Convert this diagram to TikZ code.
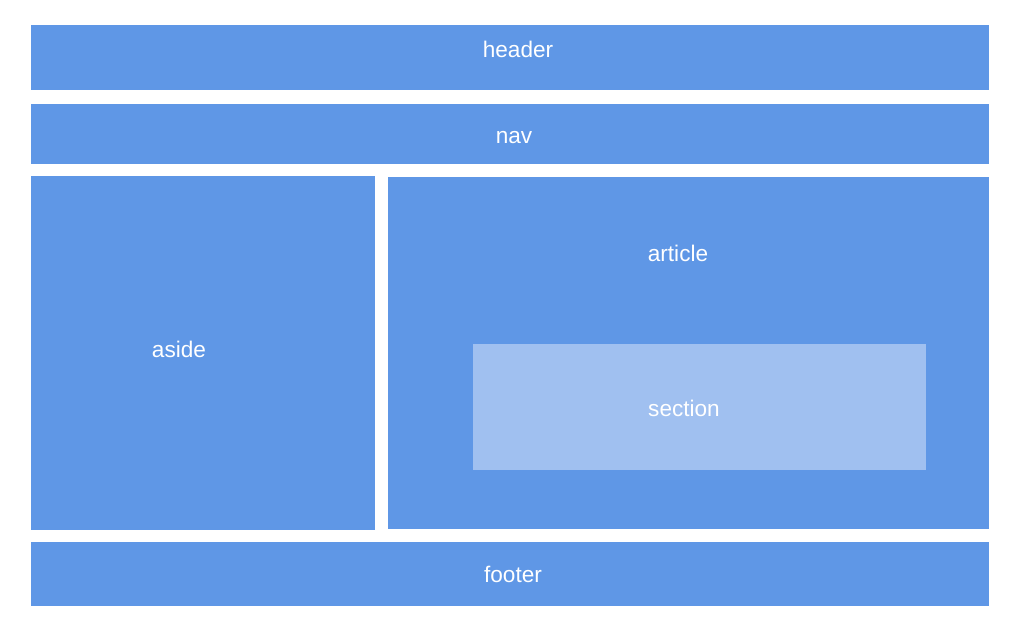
\documentclass[tikz,border=0pt]{standalone}
\usepackage{fontspec}
\setmainfont{Liberation Sans}
\usepackage{xcolor}
\usetikzlibrary{positioning}

\definecolor{boxblue}{HTML}{5F97E6}
\definecolor{secblue}{HTML}{A0C0F0}

\begin{document}
\begin{tikzpicture}[x=1pt,y=-1pt,
    block/.style={fill=boxblue},
    inner/.style={fill=secblue},
    lbl/.style={anchor=base, inner sep=0pt, text=white, font=\fontsize{22.6}{26}\selectfont}]
\useasboundingbox (0,0) rectangle (1022,627);

% Header and nav
\fill[block] (31,25) rectangle (989,90);
\node[lbl] (header) at (518,57) {header};
\fill[block] (31,104) rectangle (989,164);
\node[lbl] (nav) at (514,143) {nav};

% Aside
\fill[block] (31,176) rectangle (375,530);
\node[lbl] (aside) at (179,357) {aside};

% Article
\fill[block] (388,177) rectangle (989,529);
\node[lbl] (article) at (678,261) {article};
\fill[inner] (473,344) rectangle (926,470);
\node[lbl] (section) at (684,416) {section};

% Footer
\fill[block] (31,542) rectangle (989,606);
\node[lbl] (footer) at (513,582) {footer};
\end{tikzpicture}
\end{document}
